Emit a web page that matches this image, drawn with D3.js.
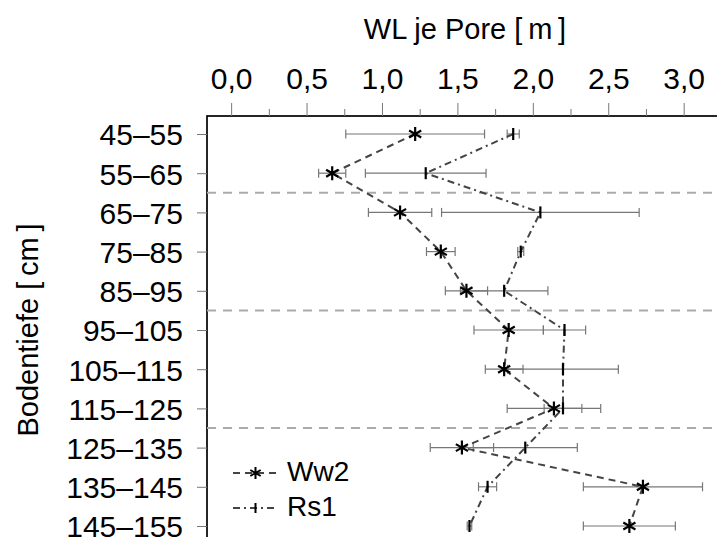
<!DOCTYPE html>
<html><head><meta charset="utf-8">
<script src="https://cdn.jsdelivr.net/npm/d3@7"></script>
<style>
body{margin:0;background:#fff;}
svg{display:block;}
text{font-family:"Liberation Sans", Arial, Helvetica, sans-serif;fill:#000;}
</style>
</head><body>
<svg id="chart" width="717" height="537"></svg>
<script>
// ---- data ----
const categories = ["45–55","55–65","65–75","75–85","85–95","95–105","105–115","115–125","125–135","135–145","145–155"];
const ww2Values = [1.22, 0.67, 1.12, 1.39, 1.56, 1.84, 1.81, 2.14, 1.53, 2.73, 2.64];
const ww2Errors = [0.46, 0.09, 0.21, 0.095, 0.14, 0.23, 0.125, 0.31, 0.21, 0.395, 0.305];
const rs1Values = [1.87, 1.29, 2.05, 1.92, 1.81, 2.21, 2.20, 2.20, 1.95, 1.70, 1.58];
const rs1Errors = [0.04, 0.40, 0.655, 0.02, 0.29, 0.14, 0.367, 0.125, 0.345, 0.06, 0.015];
const xTickValues = [0, 0.5, 1.0, 1.5, 2.0, 2.5, 3.0];
const xMinorTickValues = [0.25, 0.75, 1.25, 1.75, 2.25, 2.75, 3.25];
const separatorAfter = ["55–65", "85–95", "115–125"];
const seriesNames = ["Ww2", "Rs1"];
const xTitle = "WL je Pore [\u2009m\u2009]";
const yTitle = "Bodentiefe [\u2009cm\u2009]";

// ---- layout ----
const svg = d3.select("#chart");
const pLeft = 207, pTop = 116, pRight = 744, pBottom = 546;
const tickFont = 30, titleFont = 29, legendFont = 28;

const x = d3.scaleLinear().domain([-0.16, 3.4]).range([pLeft, pRight]);
const y = d3.scalePoint().domain(categories).range([134, 526]);

// frame
svg.append("rect").attr("x", pLeft).attr("y", pTop)
  .attr("width", pRight - pLeft).attr("height", pBottom - pTop)
  .attr("fill", "none").attr("stroke", "#000").attr("stroke-width", 1.7);

// minor top ticks
const gMinor = svg.append("g").attr("transform", `translate(0,${pTop})`)
  .call(d3.axisTop(x).tickValues(xMinorTickValues).tickSize(7).tickFormat(""));
gMinor.select(".domain").remove();
gMinor.selectAll(".tick line").attr("stroke", "#777").attr("stroke-width", 1);

// major top axis
const fmt = d3.format(".1f");
const gx = svg.append("g").attr("transform", `translate(0,${pTop})`)
  .call(d3.axisTop(x).tickValues(xTickValues).tickSize(13).tickPadding(14)
    .tickFormat(d => fmt(d).replace(".", ",")));
gx.select(".domain").remove();
gx.selectAll(".tick line").attr("stroke", "#777").attr("stroke-width", 1);
gx.selectAll(".tick text").attr("font-size", tickFont).attr("font-family", null).attr("fill", "#000");

// left axis
const gy = svg.append("g").attr("transform", `translate(${pLeft},0)`)
  .call(d3.axisLeft(y).tickSize(10).tickPadding(14));
gy.select(".domain").remove();
gy.selectAll(".tick line").attr("stroke", "#777").attr("stroke-width", 1);
gy.selectAll(".tick text").attr("font-size", tickFont).attr("font-family", null)
  .attr("fill", "#000").attr("dy", "0.36em");

// titles
svg.append("text").attr("x", 465).attr("y", 39).attr("text-anchor", "middle")
  .attr("font-size", titleFont).text(xTitle);
svg.append("text").attr("transform", "translate(38,330) rotate(-90)")
  .attr("text-anchor", "middle").attr("font-size", titleFont).text(yTitle);

// separators
const step = y.step();
svg.append("g").selectAll("line").data(separatorAfter).join("line")
  .attr("x1", pLeft).attr("x2", pRight)
  .attr("y1", d => y(d) + step / 2).attr("y2", d => y(d) + step / 2)
  .attr("stroke", "#aaa").attr("stroke-width", 2).attr("stroke-dasharray", "9,7");

// series
const series = [
  {name: seriesNames[0], values: ww2Values, errors: ww2Errors, dash: "7,5", marker: "asterisk"},
  {name: seriesNames[1], values: rs1Values, errors: rs1Errors, dash: "7,4,2,4", marker: "bar"}
];

function markerPath(type, r) {
  if (type === "asterisk") {
    const c = r * Math.cos(Math.PI / 6), s = r * Math.sin(Math.PI / 6);
    return `M0,${-r}L0,${r}M${-c},${-s}L${c},${s}M${-c},${s}L${c},${-s}`;
  }
  return `M0,${-r}L0,${r}`;
}

// error bars
series.forEach(s => {
  const g = svg.append("g").attr("stroke", "#777").attr("stroke-width", 1.2).attr("fill", "none");
  categories.forEach((c, i) => {
    const yy = y(c), x0 = x(s.values[i] - s.errors[i]), x1 = x(s.values[i] + s.errors[i]);
    g.append("line").attr("x1", x0).attr("x2", x1).attr("y1", yy).attr("y2", yy);
    g.append("line").attr("x1", x0).attr("x2", x0).attr("y1", yy - 4.5).attr("y2", yy + 4.5);
    g.append("line").attr("x1", x1).attr("x2", x1).attr("y1", yy - 4.5).attr("y2", yy + 4.5);
  });
});

// lines
const lineGen = d3.line().x(d => x(d.v)).y(d => y(d.c));
series.forEach(s => {
  const pts = categories.map((c, i) => ({c, v: s.values[i]}));
  svg.append("path").attr("d", lineGen(pts)).attr("fill", "none")
    .attr("stroke", "#444").attr("stroke-width", 2).attr("stroke-dasharray", s.dash);
});

// markers
series.forEach(s => {
  svg.append("g").selectAll("path").data(categories).join("path")
    .attr("transform", (c, i) => `translate(${x(s.values[i])},${y(c)})`)
    .attr("d", markerPath(s.marker, s.marker === "asterisk" ? 7 : 6))
    .attr("stroke", "#000").attr("stroke-width", s.marker === "asterisk" ? 2.2 : 2.2).attr("fill", "none");
});

// legend
const legendY = [473, 508];
series.forEach((s, i) => {
  const ly = legendY[i];
  svg.append("line").attr("x1", 233).attr("x2", 278).attr("y1", ly).attr("y2", ly)
    .attr("stroke", "#444").attr("stroke-width", 2).attr("stroke-dasharray", s.dash);
  svg.append("path").attr("transform", `translate(255.5,${ly})`)
    .attr("d", markerPath(s.marker, s.marker === "asterisk" ? 6 : 5))
    .attr("stroke", "#000").attr("stroke-width", 2).attr("fill", "none");
  svg.append("text").attr("x", 287).attr("y", ly).attr("dy", "0.3em")
    .attr("font-size", legendFont).text(s.name);
});
</script>
</body></html>
